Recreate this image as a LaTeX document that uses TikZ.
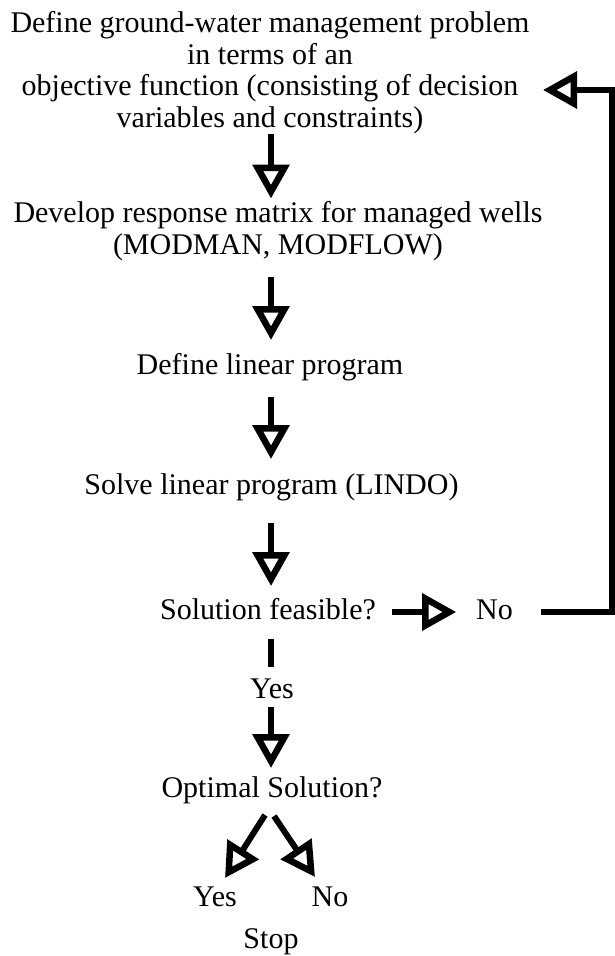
\documentclass[tikz,border=0pt]{standalone}
\usepackage{fontspec}
\setmainfont{Liberation Serif}
\usetikzlibrary{arrows.meta}
\begin{document}
\begin{tikzpicture}[x=1pt,y=-1pt,
  txt/.style={inner sep=0pt, outer sep=0pt, font=\fontsize{30}{31.5}\selectfont},
  line/.style={txt, anchor=base, text height=21pt, text depth=7pt},
  block/.style={txt, align=center, anchor=north},
  flow/.style={line width=6pt, -{Triangle[open, length=34pt, width=36pt, line width=6.5pt]}},
  link/.style={line width=6pt}]
\useasboundingbox (0,0) rectangle (615,956);
% guide lines for the main column and the return path
\coordinate (spine) at (271,0);
\coordinate (rail) at (612,0);
\coordinate (entry) at (543,90);

% steps
\node[block] (goal) at (270,11.5)
  {Define ground-water management problem\\in terms of an\\objective function (consisting of decision\\variables and constraints)};
\node[block] (resp) at (278,201.5)
  {Develop response matrix for managed wells\\(MODMAN, MODFLOW)};
\node[line] (deflp) at (270,374) {Define linear program};
\node[line] (solve) at (271.5,494) {Solve linear program (LINDO)};
\node[line] (feas) at (268,619) {Solution feasible?};
\node[line] (nofeas) at (494.5,619) {No};
\node[line] (yesfeas) at (272,698) {Yes};
\node[line] (opt) at (272,797) {Optimal Solution?};
\node[line] (yesopt) at (215,906) {Yes};
\node[line] (noopt) at (330,906) {No};
\node[line] (stop) at (271,948) {Stop};

% main column
\draw[flow, shorten >=3pt] (goal.south -| spine) -- (resp.north -| spine);
\draw[flow, shorten <=16pt, shorten >=13pt] (resp.south -| spine) -- (deflp.north -| spine);
\draw[flow, shorten <=16pt, shorten >=14pt] (deflp.south -| spine) -- (solve.north -| spine);
\draw[flow, shorten <=22pt, shorten >=12pt] (solve.south -| spine) -- (feas.north -| spine);
\draw[link, shorten <=13pt, shorten >=10pt] (feas.south -| spine) -- (yesfeas.north -| spine);
\draw[flow, shorten <=2pt, shorten >=8pt] (yesfeas.south -| spine) -- (opt.north -| spine);

% branches of the optimality test
\draw[flow] ([xshift=-7pt,yshift=-11pt]opt.south) -- ([xshift=10pt,yshift=7pt]yesopt.north);
\draw[flow] ([xshift=2pt,yshift=-12pt]opt.south) -- ([xshift=-15pt,yshift=8pt]noopt.north);

% infeasible branch and return path
\draw[flow, shorten <=16pt, shorten >=20pt] (feas.east) -- (nofeas.west);
\draw[flow, shorten <=28pt] (nofeas.east) -- (nofeas.east -| rail) -- (rail |- entry) -- (entry);
\end{tikzpicture}
\end{document}
